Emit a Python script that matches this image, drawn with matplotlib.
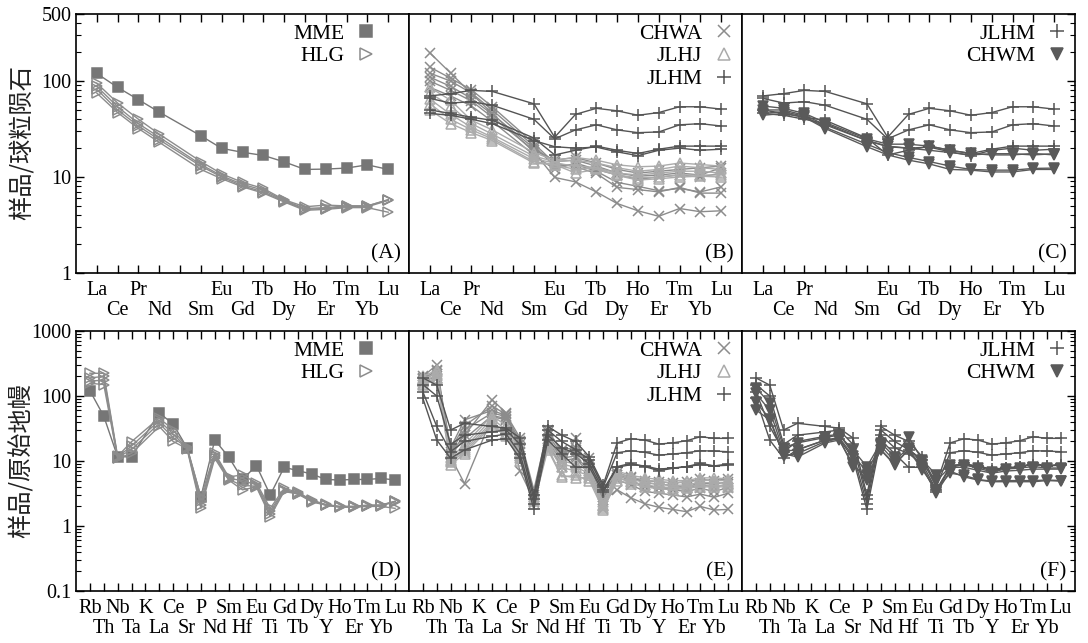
import matplotlib
matplotlib.use('Agg')
import matplotlib.pyplot as plt
from matplotlib.lines import Line2D
from matplotlib.ticker import LogLocator, NullFormatter

plt.rcParams['font.family'] = ['Liberation Serif', 'DejaVu Serif']
plt.rcParams['font.size'] = 14.5

# element order (Pm and K have no data)
ree = ['La', 'Ce', 'Pr', 'Nd', 'Pm', 'Sm', 'Eu', 'Gd', 'Tb', 'Dy', 'Ho', 'Er', 'Tm', 'Yb', 'Lu']
spider = ['Rb', 'Th', 'Nb', 'Ta', 'K', 'La', 'Ce', 'Sr', 'P', 'Nd', 'Sm', 'Hf', 'Eu', 'Ti',
          'Gd', 'Tb', 'Dy', 'Y', 'Ho', 'Er', 'Tm', 'Yb', 'Lu']
ree_x = [i for i, e in enumerate(ree) if e != 'Pm']
spider_x = [i for i, e in enumerate(spider) if e != 'K']

# ---- chondrite normalised REE (La..Lu without Pm)
mme_ree = [[120, 86, 64, 47.5, 26.9, 19.9, 18.1, 16.8, 14.4, 12.0, 12.1, 12.4, 13.4, 12.0]]
hlg_ree = [[95, 59, 40, 28, 14.5, 10.8, 8.8, 7.6, 5.8, 4.9, 5.1, 5.0, 5.0, 5.8],
           [88, 54, 36, 26, 13.5, 10.3, 8.4, 7.3, 5.7, 4.7, 4.8, 5.0, 5.0, 5.8],
           [82, 50, 34, 24.5, 13, 10.0, 8.1, 7.0, 5.6, 4.6, 4.7, 4.9, 4.9, 5.7],
           [75, 47, 32, 23, 12, 9.6, 7.9, 6.8, 5.5, 4.5, 4.6, 4.8, 4.8, 4.3]]
chwa_ree = [[197, 121, 74, 46, 18.3, 9.9, 8.9, 7.0, 5.3, 4.45, 3.9, 4.7, 4.35, 4.45],
            [140, 107, 81, 54, 22.4, 13.9, 12.8, 10.9, 7.8, 7.4, 7.0, 7.8, 6.8, 6.8],
            [121, 100, 75, 50, 21, 13, 13.5, 11.5, 8.8, 8.0, 7.2, 7.6, 7.0, 7.9],
            [110, 88, 66, 45, 20, 14.5, 15, 13, 11, 10.2, 10.5, 11, 10.5, 12.5],
            [100, 80, 62, 42, 19, 15, 16, 14, 12, 11, 11.5, 12, 12.5, 13],
            [86, 70, 55, 38, 17, 12, 14, 12, 10.5, 9.5, 10, 10.5, 10, 11]]
jlhj_ree = [[86, 63, 39, 31, 18, 15, 16, 15, 13.4, 12.8, 13, 14, 13.5, 13],
            [75, 55, 36, 28, 16.5, 14.5, 15, 14, 12.5, 11.5, 12, 13, 12.5, 12],
            [65, 45, 33, 26, 15.5, 14, 13, 12.5, 11, 10.5, 11, 11.5, 11.5, 11],
            [58, 40, 31, 25, 14.5, 13.5, 11, 12, 10.5, 9.8, 10, 10.5, 10.5, 10.5],
            [50, 36, 29, 24, 14, 13.4, 12, 12.5, 10.4, 9.3, 9.6, 10, 10.2, 10]]
jlhm_ree = [[70, 74, 80, 78, 58, 26, 45, 52, 49, 44, 47, 54, 54, 51],
            [66, 59, 61, 56, 40, 25, 31, 35, 31, 29, 29.5, 35, 36, 34],
            [50, 46, 42, 39, 25.5, 17, 19, 21, 19, 17.6, 19.5, 21, 21, 21],
            [46, 44, 40, 36, 24, 20.7, 20, 20.5, 18.3, 16.7, 19, 20, 19, 19.5]]
chwm_ree = [[55, 52, 46, 37, 25, 22, 22, 21, 19, 17.6, 17, 17, 17.6, 17],
            [50, 50, 44, 35, 24, 21, 20, 19, 18, 17, 17.5, 17.5, 17, 17.5],
            [46, 48, 43, 33, 22, 18, 16, 14.5, 13, 12, 11.8, 11.8, 12.3, 12.4],
            [44, 46, 42, 32, 20.7, 17, 15, 13.7, 12, 11.8, 11.3, 11.3, 12, 12]]

# ---- primitive mantle normalised (Rb..Lu without K)
mme_pm = [[121, 49, 11.6, 11.6, 55, 37, 16, 2.8, 21, 11.6, 5.2, 8.5, 3.0, 8.0, 7.1, 6.3,
           5.2, 5.1, 5.2, 5.2, 5.4, 5.1]]
hlg_pm = [[224, 223, 11.8, 19.8, 46, 30, 16.5, 2.8, 13.2, 5.7, 6.1, 4.6, 1.87, 3.8, 3.3, 2.5,
           2.15, 2.0, 2.0, 2.1, 2.1, 2.4],
          [190, 200, 11.5, 17, 42, 26, 16, 2.4, 12.5, 5.4, 5.0, 4.3, 1.7, 3.6, 3.2, 2.45,
           2.1, 2.0, 2.0, 2.05, 2.1, 2.4],
          [170, 175, 11.3, 15, 38, 23, 16, 2.1, 11.8, 5.2, 4.2, 4.1, 1.55, 3.5, 3.15, 2.4,
           2.1, 1.95, 1.95, 2.05, 2.05, 2.35],
          [157, 150, 11.0, 13.1, 34, 20, 15.5, 1.87, 11.0, 5.1, 3.6, 4.0, 1.4, 3.4, 3.1, 2.35,
           2.1, 1.95, 1.95, 2.0, 2.0, 1.87]]
chwa_pm = [[200, 300, 13, 25, 87, 55, 14, 3.0, 22, 11, 12, 7, 2.5, 3.6, 2.7, 2.2, 1.94, 1.8,
            1.66, 2.0, 1.76, 1.8],
           [180, 250, 16, 43, 60, 50, 20, 3.3, 25, 13, 15, 8, 2.8, 5.1, 4.3, 3.4, 3.2, 3.0,
            2.8, 3.1, 2.76, 3.2],
           [166, 200, 11.6, 4.5, 48, 43, 7, 2.5, 19, 8, 22.4, 5.7, 2.0, 6.0, 5.0, 4.0, 3.8, 3.6,
            3.4, 3.8, 3.4, 3.9],
           [190, 220, 14, 30, 55, 48, 18, 2.8, 28, 15, 16, 9, 3.0, 6.5, 5.7, 4.6, 4.4, 4.2, 4.0,
            4.6, 4.4, 4.8],
           [170, 240, 15, 35, 70, 52, 22.7, 3.6, 30, 14, 14, 11, 3.6, 6.0, 5.4, 5.0, 4.8, 4.6,
            4.8, 5.2, 5.0, 5.3],
           [185, 190, 12.5, 22, 50, 45, 12, 2.3, 20, 10, 11, 6.5, 1.8, 5.5, 4.8, 4.2, 3.9, 3.8,
            3.9, 4.3, 4.0, 4.4]]
jlhj_pm = [[200, 250, 11, 18, 50, 35, 14, 3.0, 22, 10, 9, 7, 2.3, 7, 6, 5.5, 5.2, 5.0, 5.0,
            5.5, 5.5, 5.3],
           [180, 230, 10.5, 16, 45, 30, 13, 2.8, 19, 9, 8, 6.5, 2.1, 6.5, 5.6, 5.1, 4.8, 4.6,
            4.7, 5.1, 5.0, 5.0],
           [165, 210, 10, 15, 40, 27, 12, 2.6, 17, 8, 7, 6, 2.0, 6, 5.2, 4.7, 4.4, 4.2, 4.3,
            4.7, 4.6, 4.6],
           [155, 190, 9.5, 14, 37, 25, 11, 2.4, 16, 6, 5.5, 5.5, 1.9, 5.5, 4.8, 4.3, 4.0, 3.9,
            4.0, 4.3, 4.2, 4.2],
           [150, 180, 8.7, 13, 35, 24, 10, 2.2, 15, 5.7, 6, 5, 1.76, 5.0, 4.5, 4.0, 3.8, 3.6,
            3.8, 4.0, 4.0, 4.0]]
jlhm_pm = [[190, 147, 30, 38, 34, 32, 22.6, 3.0, 34, 25, 20, 11.6, 4.3, 19, 22, 21, 18.2, 19,
            20.5, 23.6, 22.3, 22.3],
           [150, 100, 18, 25, 28, 30, 18, 2.6, 30, 20, 15, 10.5, 4.0, 13.4, 14.4, 13.6, 12.3,
            12.8, 13.4, 14.4, 14.2, 13.9],
           [116, 34, 14, 20, 24, 26, 13, 2.2, 25, 16, 13, 9, 3.6, 8.2, 9.2, 8.2, 7.1, 7.7, 8.2,
            9.2, 8.4, 9.0],
           [92, 21, 11, 14.8, 21, 22, 11, 1.8, 21, 13, 8, 8, 3.3, 8.0, 8.8, 8.4, 7.5, 7.8, 8.2,
            8.8, 8.4, 8.6]]
chwm_pm = [[133, 78, 16, 19, 23, 25, 14.8, 8.2, 19, 11.6, 23.6, 10.3, 6.1, 8.7, 8.7, 7.8, 6.8,
            7.5, 7.8, 8.2, 7.8, 7.8],
           [110, 60, 14, 15, 21, 23, 12, 7, 17, 10, 16, 9, 5, 8.0, 8.0, 7.2, 6.5, 7.0, 7.2, 7.5,
            7.5, 7.5],
           [80, 45, 13, 11.5, 19, 21, 9, 5.1, 15, 9, 14.8, 7.3, 3.6, 6.5, 6.0, 5.2, 4.9, 5.0,
            5.0, 5.0, 5.1, 5.0],
           [61, 43, 12, 13, 20, 22, 8.2, 6, 14.8, 8.7, 15, 8, 3.2, 7.0, 5.7, 5.1, 4.8, 4.8, 4.8,
            4.8, 5.0, 4.9]]

# marker styles per group
sty = {
    'MME': dict(marker='s', color='#767676', mfc='#767676', ms=6.5),
    'HLG': dict(marker='>', color='#8c8c8c', mfc='none', ms=7),
    'CHWA': dict(marker='x', color='#8c8c8c', mfc='none', ms=7.5),
    'JLHJ': dict(marker='^', color='#ababab', mfc='none', ms=7),
    'JLHM': dict(marker='+', color='#545454', mfc='none', ms=8.5),
    'CHWM': dict(marker='v', color='#5a5a5a', mfc='#5a5a5a', ms=7.5),
}


def draw(ax, x, rows, name):
    s = sty[name]
    for r in rows:
        ax.plot(x, r, color=s['color'], lw=1.0, marker=s['marker'], ms=s['ms'],
                mfc=s['mfc'], mec=s['color'], mew=1.1)


def legend(ax, names, xanchor):
    hs = [Line2D([], [], ls='none', marker=sty[n]['marker'], ms=sty[n]['ms'] + 1.5,
                 mfc=sty[n]['mfc'], mec=sty[n]['color'], mew=1.1) for n in names]
    ax.legend(hs, names, loc='upper right', bbox_to_anchor=(xanchor, 1), frameon=False,
              markerfirst=False, fontsize=15.5, handlelength=0.8, handletextpad=0.6,
              labelspacing=0.12, borderaxespad=0.15, borderpad=0.3)


fig = plt.figure(figsize=(10.88, 6.43), dpi=100)
W, H = 1088, 643
lefts = [76, 409, 742]
pw = 333
rows_px = [(14, 273), (331, 591)]

axes = []
for r, (top, bot) in enumerate(rows_px):
    row = []
    for c in range(3):
        ax = fig.add_axes([lefts[c] / W, 1 - bot / H, pw / W, (bot - top) / H])
        row.append(ax)
    axes.append(row)

top_groups = [[('MME', mme_ree), ('HLG', hlg_ree)],
              [('CHWA', chwa_ree), ('JLHJ', jlhj_ree), ('JLHM', jlhm_ree)],
              [('JLHM', jlhm_ree), ('CHWM', chwm_ree)]]
bot_groups = [[('MME', mme_pm), ('HLG', hlg_pm)],
              [('CHWA', chwa_pm), ('JLHJ', jlhj_pm), ('JLHM', jlhm_pm)],
              [('JLHM', jlhm_pm), ('CHWM', chwm_pm)]]
tags = [['(A)', '(B)', '(C)'], ['(D)', '(E)', '(F)']]

for r in range(2):
    names_all = ree if r == 0 else spider
    xs = ree_x if r == 0 else spider_x
    groups = top_groups if r == 0 else bot_groups
    for c in range(3):
        ax = axes[r][c]
        for name, data in groups[c]:
            draw(ax, xs, data, name)
        legend(ax, [g[0] for g in groups[c]], 0.925 if c == 0 else 1.0)
        ax.set_yscale('log')
        if r == 0:
            ax.set_ylim(1, 500)
            ax.set_yticks([1, 10, 100, 500], ['1', '10', '100', '500'])
        else:
            ax.set_ylim(0.1, 1000)
            ax.set_yticks([0.1, 1, 10, 100, 1000], ['0.1', '1', '10', '100', '1000'])
        ax.yaxis.set_minor_locator(LogLocator(base=10, subs=range(2, 10)))
        ax.yaxis.set_minor_formatter(NullFormatter())
        ax.set_xlim(-1, len(names_all))
        # two staggered rows of element names: even on the first row, odd on the second
        ev = list(range(0, len(names_all), 2))
        od = list(range(1, len(names_all), 2))
        ax.set_xticks(ev, ['' if names_all[i] == 'Pm' else names_all[i] for i in ev])
        ax.set_xticks(od, [names_all[i] for i in od], minor=True)
        ax.tick_params(axis='x', which='both', direction='in', top=True, bottom=True,
                       length=6, width=1)
        ax.tick_params(axis='x', which='major', pad=5.5)
        ax.tick_params(axis='x', which='minor', pad=20)
        ax.tick_params(axis='y', which='both', direction='in', left=(c == 0),
                       right=(c == 2), labelleft=(c == 0), labelright=False, pad=3)
        ax.tick_params(axis='y', which='major', length=6, width=1)
        ax.tick_params(axis='y', which='minor', length=3.5, width=0.8)
        for sp in ax.spines.values():
            sp.set_linewidth(1.2)
        ax.text(0.975, 0.035, tags[r][c], transform=ax.transAxes, ha='right', va='bottom',
                fontsize=15.5)

fig.text(22 / W, 1 - 143 / H, '样品/球粒陨石', rotation=90, ha='center', va='center',
         fontsize=17.5, family=['Noto Sans CJK SC', 'DejaVu Sans'], color='#222222')
fig.text(22 / W, 1 - 461 / H, '样品/原始地幔', rotation=90, ha='center', va='center',
         fontsize=17.5, family=['Noto Sans CJK SC', 'DejaVu Sans'], color='#222222')

fig.savefig('out.png', dpi=100)
